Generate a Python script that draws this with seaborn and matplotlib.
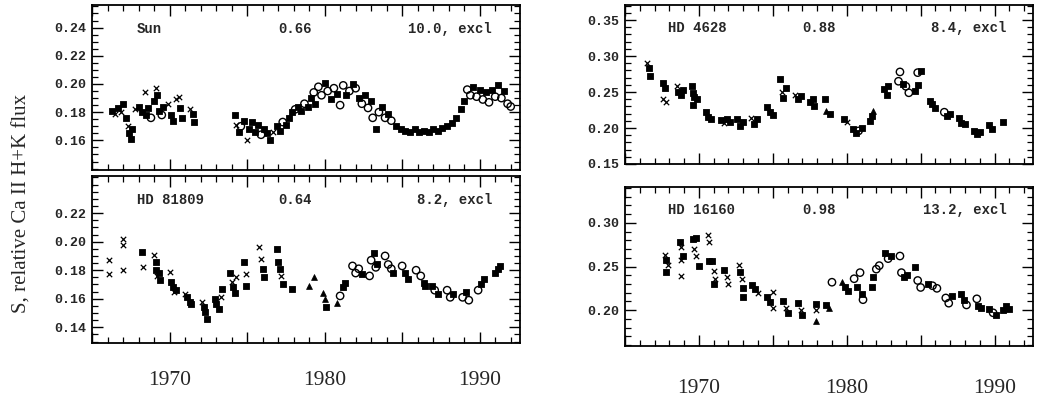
import matplotlib
matplotlib.use("Agg")
import matplotlib.pyplot as plt
import numpy as np
import pandas as pd
import seaborn as sns
from matplotlib.ticker import MultipleLocator, FuncFormatter, FixedLocator

sns.set_style("ticks")
plt.rcParams['font.family'] = ['Liberation Mono', 'DejaVu Sans']

# ---------------- data ----------------
sun_year = [1966.3, 1966.5, 1966.7, 1966.9, 1967.0, 1967.2, 1967.3, 1967.4, 1967.5, 1967.6, 1967.8, 1968.0,
            1968.2, 1968.4, 1968.5, 1968.6, 1968.8, 1969.0, 1969.1, 1969.2, 1969.3, 1969.5, 1969.6, 1969.9,
            1970.1, 1970.2, 1970.4, 1970.6, 1970.7, 1970.8, 1971.3, 1971.5, 1971.6,
            1974.2, 1974.3, 1974.5, 1974.6, 1974.8, 1975.0, 1975.1, 1975.3, 1975.5, 1975.7, 1975.9, 1976.1,
            1976.3, 1976.5, 1976.7, 1976.9, 1977.1, 1977.3, 1977.5, 1977.7, 1977.9, 1978.1, 1978.3, 1978.5,
            1978.7, 1978.9,
            1979.1, 1979.3, 1979.4, 1979.6, 1979.8, 1980.0, 1980.2, 1980.4, 1980.6, 1980.8, 1981.0, 1981.2,
            1981.4, 1981.6, 1981.8, 1982.0, 1982.2, 1982.4, 1982.6, 1982.8, 1983.0, 1983.1, 1983.3, 1983.5,
            1983.7, 1983.9, 1984.1, 1984.3, 1984.6, 1984.9, 1985.2, 1985.5, 1985.8, 1986.1, 1986.4, 1986.7,
            1987.0, 1987.3, 1987.6, 1987.9, 1988.2, 1988.5, 1988.8, 1989.0, 1989.2, 1989.4, 1989.6, 1989.8,
            1990.0, 1990.2, 1990.4, 1990.6, 1990.8, 1991.0, 1991.2, 1991.4, 1991.6, 1991.8, 1992.0]
sun_s = [0.181, 0.179, 0.183, 0.180, 0.186, 0.176, 0.170, 0.165, 0.161, 0.168, 0.182, 0.184,
         0.180, 0.194, 0.178, 0.183, 0.176, 0.188, 0.197, 0.192, 0.181, 0.178, 0.184, 0.186,
         0.178, 0.174, 0.189, 0.191, 0.183, 0.176, 0.182, 0.179, 0.173,
         0.178, 0.171, 0.166, 0.170, 0.174, 0.160, 0.168, 0.173, 0.166, 0.171, 0.164, 0.168,
         0.165, 0.160, 0.166, 0.170, 0.167, 0.173, 0.171, 0.176, 0.180, 0.182, 0.184, 0.181,
         0.186, 0.184,
         0.190, 0.194, 0.186, 0.198, 0.192, 0.201, 0.195, 0.189, 0.197, 0.193, 0.185, 0.199,
         0.192, 0.195, 0.200, 0.197, 0.190, 0.186, 0.192, 0.183, 0.188, 0.176, 0.168, 0.180,
         0.184, 0.176, 0.179, 0.174, 0.170, 0.168, 0.167, 0.166, 0.168, 0.166, 0.167, 0.166,
         0.168, 0.167, 0.169, 0.170, 0.172, 0.176, 0.182, 0.188, 0.196, 0.192, 0.198, 0.191,
         0.196, 0.189, 0.194, 0.187, 0.196, 0.191, 0.199, 0.190, 0.195, 0.186, 0.184]
sun_kind = list("fxfxffxfffxf" "fxffofxffofx" "ffxxffxff"
                "fxfofxffffoff" "fxffofffoff" "off"
                "ofoofofofoof" "ofofofofofof" "ofofffffffff"
                "fffffffoofof" "ofofofofoooo")

hd81809_year = [1966.1, 1966.1, 1967.0, 1967.0, 1967.0, 1968.2, 1968.3, 1969.0, 1969.1, 1969.1, 1969.2, 1969.3,
                1969.4, 1970.0, 1970.1, 1970.2, 1970.3, 1970.4, 1971.0, 1971.1, 1971.3, 1971.4, 1972.1, 1972.2,
                1972.3, 1972.4, 1972.9, 1973.0, 1973.2, 1973.4, 1973.3, 1973.9, 1974.0, 1974.1, 1974.2, 1974.3,
                1974.8, 1974.9, 1974.9, 1975.8, 1975.9, 1976.0, 1976.1, 1976.9, 1977.0, 1977.1, 1977.2, 1977.3,
                1977.9, 1979.0, 1979.3, 1979.9, 1980.0, 1980.1, 1980.8, 1981.0, 1981.2, 1981.3, 1981.8, 1982.0,
                1982.2, 1982.4, 1982.9, 1983.0, 1983.2, 1983.3, 1983.4, 1983.9, 1984.1, 1984.3, 1984.4, 1985.0,
                1985.2, 1985.4, 1985.9, 1986.2, 1986.4, 1986.5, 1986.9, 1987.1, 1987.3, 1987.9, 1988.1, 1988.3,
                1988.9, 1989.1, 1989.3, 1989.9, 1990.1, 1990.3, 1991.0, 1991.2, 1991.3]
hd81809_s = [0.187, 0.177, 0.202, 0.198, 0.180, 0.193, 0.182, 0.191, 0.186, 0.180, 0.176, 0.178,
             0.173, 0.179, 0.172, 0.168, 0.165, 0.166, 0.163, 0.161, 0.158, 0.156, 0.158, 0.154,
             0.151, 0.146, 0.160, 0.156, 0.153, 0.167, 0.161, 0.178, 0.172, 0.168, 0.164, 0.175,
             0.186, 0.177, 0.169, 0.196, 0.188, 0.181, 0.175, 0.195, 0.186, 0.181, 0.176, 0.170,
             0.167, 0.169, 0.175, 0.164, 0.160, 0.154, 0.157, 0.162, 0.168, 0.171, 0.183, 0.178,
             0.181, 0.177, 0.176, 0.187, 0.192, 0.182, 0.184, 0.190, 0.184, 0.181, 0.178, 0.183,
             0.178, 0.174, 0.180, 0.176, 0.171, 0.169, 0.169, 0.166, 0.163, 0.166, 0.161, 0.163,
             0.161, 0.165, 0.159, 0.166, 0.170, 0.174, 0.178, 0.181, 0.183]
hd81809_kind = list("xxxxxfxxffxf" "fxffxfxfff" "xfffffffxf" "xffxf" "xfxxfff" "ffxff"
                    "^^^^f^offoo" "ofoofofooofo" "ffoofffofoofo" "foofffffof")

hd4628_year = [1966.5, 1966.6, 1966.7, 1967.6, 1967.7, 1967.6, 1967.8, 1968.5, 1968.6, 1968.8, 1968.9, 1969.5,
               1969.6, 1969.7, 1969.6, 1969.9, 1970.5, 1970.6, 1970.8, 1971.5, 1971.7, 1971.9, 1972.1, 1972.6,
               1972.8, 1973.0, 1973.5, 1973.7, 1973.9, 1974.6, 1974.8, 1975.0, 1975.5, 1975.6, 1975.7, 1975.9,
               1976.5, 1976.7, 1976.9, 1977.5, 1977.7, 1977.8, 1978.5, 1978.6, 1978.9, 1979.8, 1980.0, 1980.4,
               1980.6, 1980.8, 1981.0, 1981.6, 1981.7, 1981.8, 1982.5, 1982.7, 1982.8, 1983.5, 1983.6, 1983.8,
               1984.0, 1984.2, 1984.6, 1984.8, 1984.8, 1985.0, 1985.6, 1985.8, 1986.0, 1986.6, 1986.8, 1987.0,
               1987.6, 1987.7, 1988.0, 1988.6, 1988.8, 1989.0, 1989.6, 1989.8, 1990.6, 1990.8, 1991.0]
hd4628_s = [0.291, 0.284, 0.272, 0.263, 0.255, 0.240, 0.236, 0.258, 0.250, 0.246, 0.253, 0.259,
            0.249, 0.243, 0.232, 0.240, 0.222, 0.215, 0.212, 0.211, 0.207, 0.213, 0.209, 0.212,
            0.203, 0.209, 0.214, 0.205, 0.212, 0.229, 0.222, 0.218, 0.268, 0.250, 0.242, 0.255,
            0.246, 0.240, 0.244, 0.236, 0.241, 0.230, 0.241, 0.224, 0.219, 0.212, 0.208, 0.198,
            0.193, 0.196, 0.200, 0.210, 0.217, 0.223, 0.254, 0.246, 0.258, 0.265, 0.278, 0.261,
            0.258, 0.249, 0.252, 0.260, 0.277, 0.279, 0.238, 0.234, 0.228, 0.222, 0.217, 0.220,
            0.214, 0.207, 0.205, 0.196, 0.192, 0.195, 0.204, 0.199, 0.209, 0.213, 0.215]
hd4628_kind = list("xffffxxxffff" "ffffffffxfff" "ffxffffffxff" "xffffff^ffxf" "fofff^fffoo"
                   "fooffoffffo" "fffffffffff")

hd16160_year = [1967.7, 1967.8, 1967.9, 1967.8, 1968.7, 1968.8, 1968.9, 1968.8, 1968.8, 1969.6, 1969.8, 1969.7,
                1969.8, 1970.0, 1970.6, 1970.7, 1970.7, 1970.9, 1971.0, 1971.1, 1971.0, 1971.7, 1971.9, 1972.0,
                1972.7, 1972.8, 1972.9, 1973.0, 1973.0, 1973.6, 1973.8, 1974.0, 1974.6, 1974.8, 1975.0, 1975.0,
                1975.7, 1975.9, 1976.0, 1976.7, 1976.9, 1977.0, 1977.9, 1977.9, 1977.9, 1978.6, 1978.8, 1979.0,
                1979.7, 1979.9, 1980.1, 1980.5, 1980.7, 1980.9, 1981.0, 1981.1, 1981.7, 1981.8, 1982.0, 1982.2,
                1982.6, 1982.8, 1983.0, 1983.6, 1983.7, 1983.9, 1984.1, 1984.6, 1984.8, 1985.0, 1985.5, 1985.8,
                1986.1, 1986.7, 1986.9, 1987.1, 1987.7, 1987.9, 1988.1, 1988.8, 1988.9, 1989.1, 1989.6, 1989.9,
                1990.1, 1990.6, 1990.8, 1991.0]
hd16160_s = [0.263, 0.257, 0.252, 0.244, 0.278, 0.272, 0.262, 0.258, 0.239, 0.282, 0.283, 0.270,
             0.262, 0.251, 0.286, 0.278, 0.256, 0.256, 0.245, 0.236, 0.230, 0.246, 0.238, 0.230,
             0.252, 0.244, 0.236, 0.225, 0.215, 0.229, 0.224, 0.220, 0.215, 0.209, 0.203, 0.221,
             0.210, 0.203, 0.197, 0.208, 0.200, 0.195, 0.207, 0.200, 0.188, 0.206, 0.203, 0.232,
             0.232, 0.226, 0.222, 0.236, 0.226, 0.243, 0.218, 0.212, 0.226, 0.238, 0.247, 0.251,
             0.265, 0.259, 0.262, 0.262, 0.243, 0.238, 0.240, 0.249, 0.234, 0.226, 0.230, 0.228,
             0.225, 0.214, 0.208, 0.216, 0.219, 0.212, 0.206, 0.213, 0.205, 0.203, 0.201, 0.197,
             0.195, 0.200, 0.205, 0.201]
hd16160_kind = list("xfxffxfxxffx" "xfxxffxxffxx" "xfxffffxffxx" "fxffxffx^f^o" "^ffofofoffoo"
                    "fofoofffoofo" "ooofffoofffo" "ff" "ffofo")[:88]

star_names = ["Sun", "HD 81809", "HD 4628", "HD 16160"]
star_mid = ["0.66", "0.64", "0.88", "0.98"]
star_right = ["10.0, excl", "8.2, excl", "8.4, excl", "13.2, excl"]
sun_ticks = [0.16, 0.18, 0.20, 0.22, 0.24]
hd81809_ticks = [0.14, 0.16, 0.18, 0.20, 0.22]
hd4628_ticks = [0.15, 0.20, 0.25, 0.30, 0.35]
hd16160_ticks = [0.20, 0.25, 0.30]
year_labels = [1970, 1980, 1990]

# ---------------- figure ----------------
W, H = 1039, 398
fig = plt.figure(figsize=(W / 100, H / 100), dpi=100)

def box(x0, y0, x1, y1):
    return [x0 / W, 1 - y1 / H, (x1 - x0) / W, (y1 - y0) / H]

ax_sun = fig.add_axes(box(92, 5, 520, 170))
ax_818 = fig.add_axes(box(92, 176, 520, 343))
ax_462 = fig.add_axes(box(625, 5, 1033, 164))
ax_161 = fig.add_axes(box(625, 187, 1033, 346))

styles = {
    "x": dict(marker="x", s=15, color="black", linewidth=0.9),
    "f": dict(marker="s", s=13, color="black", edgecolor="black", linewidth=0.6),
    "o": dict(marker="o", s=28, facecolor="none", edgecolor="black", linewidth=1.0),
    "^": dict(marker="^", s=18, color="black", edgecolor="black", linewidth=0.5),
}

def draw(ax, years, vals, kinds, ylim, ticks, minor, name, mid, right, bottom, pad):
    n = min(len(years), len(vals), len(kinds))
    df = pd.DataFrame({"year": years[:n], "S": vals[:n], "kind": kinds[:n]})
    for k, kw in styles.items():
        sub = df[df["kind"] == k]
        if len(sub):
            sns.scatterplot(data=sub, x="year", y="S", ax=ax, legend=False, **kw)
    ax.set_xlim(1965, 1992.6)
    ax.set_ylim(*ylim)
    ax.xaxis.set_major_locator(MultipleLocator(5))
    ax.xaxis.set_minor_locator(MultipleLocator(1))
    ax.yaxis.set_major_locator(FixedLocator(ticks))
    ax.yaxis.set_minor_locator(MultipleLocator(minor))
    ax.yaxis.set_major_formatter(FuncFormatter(lambda v, p: f"{v:.2f}"))
    if bottom:
        ax.xaxis.set_major_formatter(FuncFormatter(
            lambda v, p: str(int(round(v))) if int(round(v)) in year_labels else ""))
    else:
        ax.xaxis.set_major_formatter(FuncFormatter(lambda v, p: ""))
    ax.tick_params(which="both", direction="in", top=True, right=True, color="black")
    ax.tick_params(which="major", length=8, width=1.0)
    ax.tick_params(which="minor", length=4, width=0.9)
    ax.tick_params(axis="y", labelsize=9.5, pad=4)
    ax.tick_params(axis="x", pad=pad, labelsize=15.5)
    for lab in ax.get_yticklabels():
        lab.set_fontweight("bold")
        lab.set_family(["Liberation Mono", "DejaVu Sans"])
    for lab in ax.get_xticklabels():
        lab.set_family(["Liberation Serif", "DejaVu Serif"])
    for sp in ax.spines.values():
        sp.set_linewidth(1.3)
        sp.set_color("black")
    ax.set_xlabel("")
    ax.set_ylabel("")
    tkw = dict(transform=ax.transAxes, va="center", fontsize=10, fontweight="bold",
               family=["Liberation Mono", "DejaVu Sans"])
    ax.text(0.105, 0.855, name, ha="left", **tkw)
    ax.text(0.435, 0.855, mid, ha="left", **tkw)
    ax.text(0.935, 0.855, right, ha="right", **tkw)

draw(ax_sun, sun_year, sun_s, sun_kind, (0.139, 0.256), sun_ticks, 0.005,
     star_names[0], star_mid[0], star_right[0], False, 4)
draw(ax_818, hd81809_year, hd81809_s, hd81809_kind, (0.129, 0.246), hd81809_ticks, 0.005,
     star_names[1], star_mid[1], star_right[1], True, 20)
draw(ax_462, hd4628_year, hd4628_s, hd4628_kind, (0.15, 0.371), hd4628_ticks, 0.01,
     star_names[2], star_mid[2], star_right[2], False, 4)
draw(ax_161, hd16160_year, hd16160_s, hd16160_kind, (0.159, 0.341), hd16160_ticks, 0.01,
     star_names[3], star_mid[3], star_right[3], True, 24)

fig.text(0.021, 0.49, "S, relative Ca II H+K flux", rotation=90, ha="center", va="center",
         fontsize=15, family=["Liberation Serif", "DejaVu Serif"])

fig.savefig("out.png", dpi=100)
